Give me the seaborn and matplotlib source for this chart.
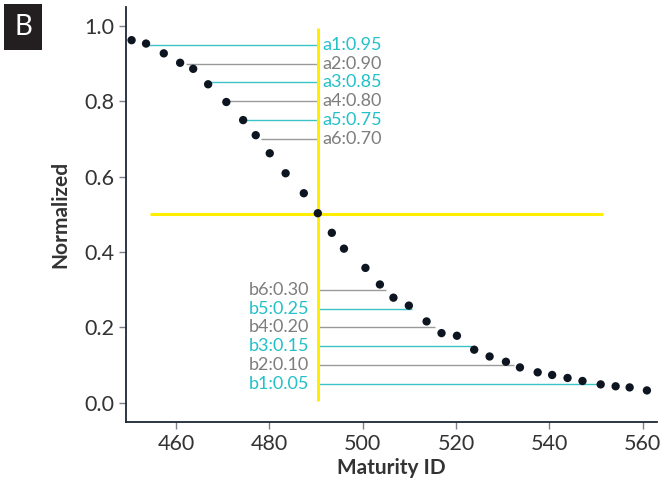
import matplotlib
matplotlib.use("Agg")
import matplotlib.pyplot as plt
import seaborn as sns
import pandas as pd
import numpy as np

# ---- data ----
maturity_id = [450.5, 453.6, 457.4, 460.9, 463.7, 466.9, 470.8, 474.4, 477.1, 480.1,
               483.5, 487.4, 490.4, 493.4, 496.0, 500.6, 503.7, 506.6, 509.9, 513.7,
               516.9, 520.2, 523.9, 527.2, 530.7, 533.7, 537.5, 540.6, 543.9, 547.1,
               551.0, 554.2, 557.2, 560.9]
normalized = [0.962, 0.953, 0.927, 0.902, 0.886, 0.845, 0.798, 0.750, 0.710, 0.662,
              0.609, 0.556, 0.503, 0.451, 0.409, 0.358, 0.314, 0.279, 0.258, 0.216,
              0.185, 0.178, 0.141, 0.123, 0.109, 0.094, 0.081, 0.074, 0.066, 0.058,
              0.049, 0.044, 0.041, 0.033]

a_labels = ["a1", "a2", "a3", "a4", "a5", "a6"]
a_levels = [0.95, 0.90, 0.85, 0.80, 0.75, 0.70]
a_start = [453.6, 462.1, 466.9, 470.8, 474.4, 478.2]

b_labels = ["b6", "b5", "b4", "b3", "b2", "b1"]
b_levels = [0.30, 0.25, 0.20, 0.15, 0.10, 0.05]
b_end = [504.9, 510.5, 515.6, 523.4, 532.5, 550.2]

center_x = 490.4
center_y = 0.5
hline_span = [454.5, 551.5]
vline_span = [0.004, 0.994]

# ---- style ----
sns.set_style("ticks")
plt.rcParams['font.family'] = ['Lato', 'DejaVu Sans']

CYAN = "#22C0C8"
GRAY = "#7d7d7d"
CYAN_LINE = "#3cc3c8"
GRAY_LINE = "#9a9a9a"
YELLOW = "#FFEE00"
DARK = "#0d1620"
SPINE = "#1c2735"

fig = plt.figure(figsize=(6.62, 4.79), dpi=100)
ax = fig.add_axes([0.1903, 0.1196, 0.8017, 0.8658])

df = pd.DataFrame({"Maturity ID": maturity_id, "Normalized": normalized})

# helper lines
ax.vlines(center_x, vline_span[0], vline_span[1], color=YELLOW, lw=2.2, zorder=2)
ax.hlines(center_y, hline_span[0], hline_span[1], color=YELLOW, lw=2.2, zorder=2)

for i, (lab, lev, xs) in enumerate(zip(a_labels, a_levels, a_start)):
    c_line = CYAN_LINE if i % 2 == 0 else GRAY_LINE
    c_txt = CYAN if i % 2 == 0 else GRAY
    ax.hlines(lev, xs, center_x, color=c_line, lw=1.0, zorder=1)
    ax.annotate(f"{lab}:{lev:.2f}", xy=(center_x, lev), xytext=(3, 0),
                textcoords="offset points", ha="left", va="center",
                color=c_txt, fontsize=13)

for i, (lab, lev, xe) in enumerate(zip(b_labels, b_levels, b_end)):
    c_line = GRAY_LINE if i % 2 == 0 else CYAN_LINE
    c_txt = GRAY if i % 2 == 0 else CYAN
    ax.hlines(lev, center_x, xe, color=c_line, lw=1.0, zorder=1)
    ax.annotate(f"{lab}:{lev:.2f}", xy=(center_x, lev), xytext=(-6, 0),
                textcoords="offset points", ha="right", va="center",
                color=c_txt, fontsize=13)

sns.scatterplot(data=df, x="Maturity ID", y="Normalized", ax=ax,
                color=DARK, s=36, edgecolor="none", zorder=3)

ax.set_xlim(449.3, 563)
ax.set_ylim(-0.05, 1.05)
ax.set_xticks([460, 480, 500, 520, 540, 560])
ax.set_yticks([0.0, 0.2, 0.4, 0.6, 0.8, 1.0])
ax.set_yticklabels(["0.0", "0.2", "0.4", "0.6", "0.8", "1.0"])
ax.tick_params(axis="both", labelsize=15.5, colors="#7a8088", labelcolor="#333333",
               length=5, width=1)
for s in ["top", "right"]:
    ax.spines[s].set_visible(False)
for s in ["left", "bottom"]:
    ax.spines[s].set_color(SPINE)
    ax.spines[s].set_linewidth(1.3)

ax.set_xlabel("Maturity ID", fontsize=15, fontweight="bold", color="#333333", labelpad=3)
ax.set_ylabel("Normalized", fontsize=15, fontweight="bold", color="#333333", labelpad=10)

# panel letter
fig.text(23 / 662, 1 - 27 / 479, "B", color="white", fontsize=20, ha="center", va="center",
         bbox=dict(boxstyle="square,pad=0.35", facecolor="#231f20", edgecolor="none"))

fig.savefig("out.png", dpi=100)
